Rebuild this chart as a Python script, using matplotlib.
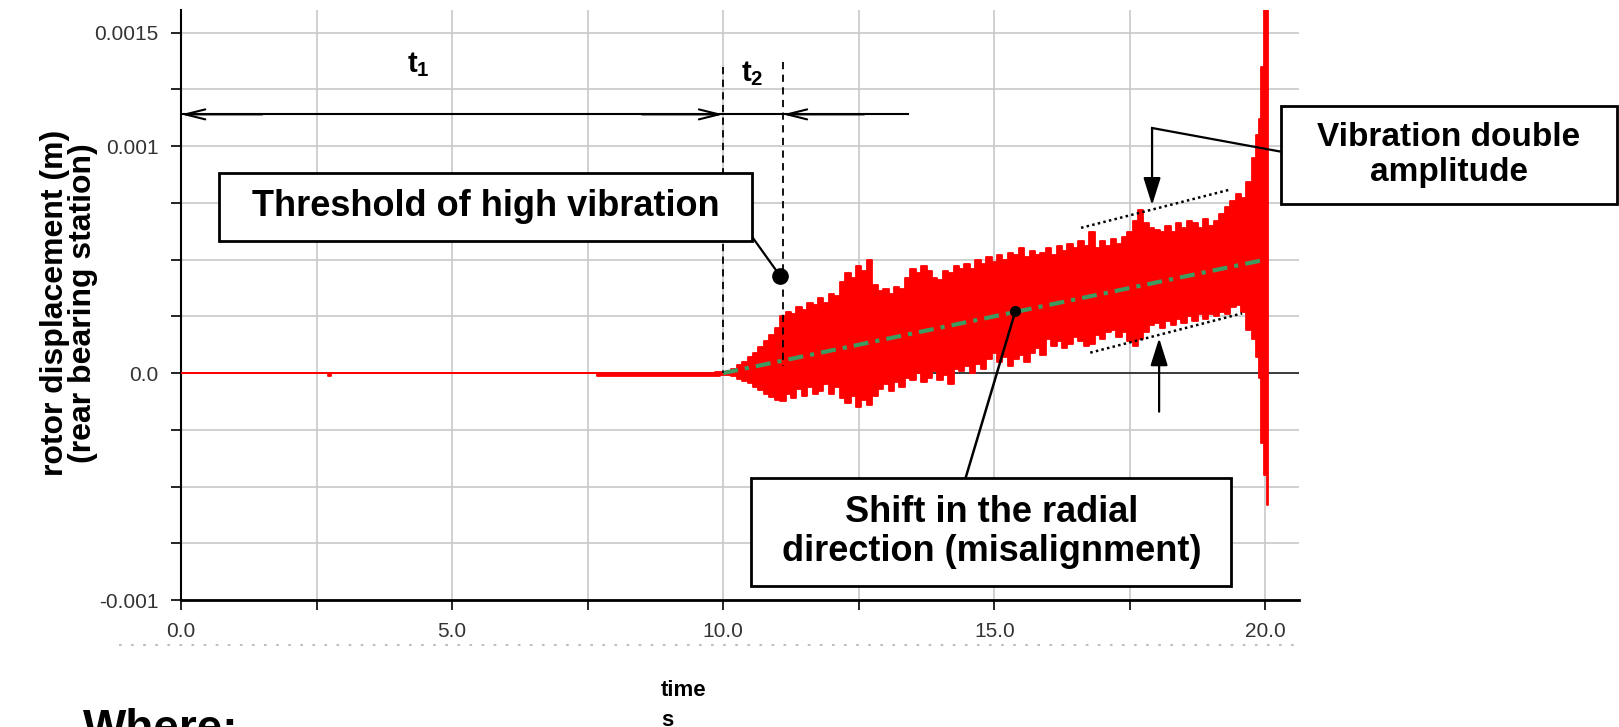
import matplotlib
matplotlib.use("Agg")
import matplotlib.pyplot as plt
from matplotlib.patches import Rectangle
from matplotlib.lines import Line2D

plt.rcParams['font.family'] = ['Liberation Sans', 'DejaVu Sans']
plt.rcParams['mathtext.fontset'] = 'custom'
plt.rcParams['mathtext.bf'] = 'Liberation Sans:bold'
plt.rcParams['mathtext.rm'] = 'Liberation Sans'
plt.rcParams['mathtext.it'] = 'Liberation Sans:italic'

# envelope of the rear bearing displacement (units of 1e-3 m)
env_t = [0.0, 2.70, 2.72, 2.76, 2.78, 7.65, 7.70, 9.80, 9.90,
         10.0, 10.1, 10.2, 10.3, 10.4, 10.5, 10.6, 10.7, 10.8, 10.9,
         11.0, 11.1, 11.2, 11.3, 11.4, 11.5, 11.6, 11.7, 11.8, 11.9,
         12.0, 12.1, 12.2, 12.3, 12.4, 12.5, 12.6, 12.7, 12.8, 12.9,
         13.0, 13.1, 13.2, 13.3, 13.4, 13.5, 13.6, 13.7, 13.8, 13.9,
         14.0, 14.1, 14.2, 14.3, 14.4, 14.5, 14.6, 14.7, 14.8, 14.9,
         15.0, 15.1, 15.2, 15.3, 15.4, 15.5, 15.6, 15.7, 15.8, 15.9,
         16.0, 16.1, 16.2, 16.3, 16.4, 16.5, 16.6, 16.7, 16.8, 16.9,
         17.0, 17.1, 17.2, 17.3, 17.4, 17.5, 17.6, 17.7, 17.8, 17.9,
         18.0, 18.1, 18.2, 18.3, 18.4, 18.5, 18.6, 18.7, 18.8, 18.9,
         19.0, 19.1, 19.2, 19.3, 19.4, 19.5, 19.6, 19.7, 19.8,
         19.85, 19.9, 19.95, 20.0, 20.05]
env_hi = [0.0, 0.0, 0.0, 0.0, 0.0, 0.0, 0.0, 0.0, 0.004,
          0.006, 0.010, 0.020, 0.035, 0.050, 0.070, 0.090, 0.115, 0.140, 0.170,
          0.200, 0.250, 0.270, 0.260, 0.290, 0.280, 0.310, 0.300, 0.330, 0.310,
          0.350, 0.340, 0.400, 0.440, 0.420, 0.470, 0.450, 0.500, 0.390, 0.360,
          0.370, 0.350, 0.380, 0.370, 0.420, 0.460, 0.440, 0.470, 0.450, 0.420,
          0.410, 0.450, 0.440, 0.470, 0.460, 0.480, 0.460, 0.500, 0.480, 0.510,
          0.490, 0.520, 0.500, 0.530, 0.520, 0.550, 0.510, 0.540, 0.520, 0.530,
          0.550, 0.520, 0.560, 0.540, 0.570, 0.550, 0.580, 0.560, 0.620, 0.550,
          0.580, 0.560, 0.590, 0.570, 0.600, 0.620, 0.670, 0.720, 0.660, 0.640,
          0.630, 0.620, 0.650, 0.620, 0.660, 0.640, 0.670, 0.660, 0.640, 0.680,
          0.650, 0.670, 0.700, 0.730, 0.760, 0.790, 0.770, 0.840, 0.950,
          1.050, 1.120, 1.350, 1.650, 1.650]
env_lo = [0.0, 0.0, -0.012, -0.012, 0.0, 0.0, -0.012, -0.012, -0.012,
          -0.008, -0.008, -0.015, -0.025, -0.035, -0.045, -0.060, -0.075, -0.090, -0.105,
          -0.120, -0.125, -0.090, -0.110, -0.070, -0.100, -0.060, -0.090, -0.080, -0.050,
          -0.090, -0.060, -0.110, -0.130, -0.100, -0.150, -0.120, -0.140, -0.100, -0.070,
          -0.050, -0.080, -0.040, -0.060, -0.020, -0.030, 0.000, -0.040, -0.020, 0.010,
          -0.030, -0.010, -0.050, 0.020, 0.010, 0.030, 0.000, 0.040, 0.020, 0.060,
          0.090, 0.050, 0.070, 0.030, 0.060, 0.080, 0.050, 0.090, 0.110, 0.080,
          0.150, 0.120, 0.140, 0.110, 0.130, 0.160, 0.140, 0.120, 0.130, 0.170,
          0.150, 0.180, 0.190, 0.160, 0.180, 0.140, 0.120, 0.150, 0.180, 0.210,
          0.220, 0.200, 0.230, 0.210, 0.240, 0.220, 0.250, 0.230, 0.260, 0.240,
          0.260, 0.250, 0.270, 0.260, 0.290, 0.300, 0.270, 0.190, 0.150,
          0.070, -0.020, -0.310, -0.450, -0.580]

# misalignment trend (dash-dot)
trend_t = [10.0, 20.0]
trend_y = [0.0, 0.0005]

# t1 / t2 markers
t_start = 10.0
t_threshold = 11.1
t2_arrow_end = 13.4
threshold_y = 0.000428

# double amplitude guides
upper_guide_t = [16.6, 19.37]
upper_guide_y = [0.00064, 0.00081]
lower_guide_t = [16.77, 19.57]
lower_guide_y = [0.00009, 0.000263]

x_ticks = [0.0, 2.5, 5.0, 7.5, 10.0, 12.5, 15.0, 17.5, 20.0]
x_tick_labels = ['0.0', '', '5.0', '', '10.0', '', '15.0', '', '20.0']
y_ticks = [-0.001, -0.00075, -0.0005, -0.00025, 0.0, 0.00025, 0.0005,
           0.00075, 0.001, 0.00125, 0.0015]
y_tick_labels = ['-0.001', '', '', '', '0.0', '', '', '', '0.001', '', '0.0015']

W, H = 1619, 727


def fx(px):
    return px / W


def fy(py):
    return 1 - py / H


fig = plt.figure(figsize=(W / 100, H / 100), dpi=100)
ax = fig.add_axes([fx(181), fy(600), (1299 - 181) / W, (600 - 10) / H])

ax.set_xlim(0, 20.62)
ax.set_ylim(-0.001, 0.0016)
ax.set_xticks(x_ticks)
ax.set_xticklabels(x_tick_labels)
ax.set_yticks(y_ticks)
ax.set_yticklabels(y_tick_labels)
ax.tick_params(axis='both', length=7, width=1.2, color='black',
               labelcolor='#333333', labelsize=15)
ax.tick_params(axis='y', pad=9)
ax.tick_params(axis='x', pad=9)
for s in ['top', 'right']:
    ax.spines[s].set_visible(False)
ax.spines['left'].set_linewidth(1.5)
ax.spines['bottom'].set_linewidth(2)
ax.set_axisbelow(True)
ax.grid(True, color='#c8c8c8', lw=1.2)
ax.axhline(0, color='#222222', lw=1.2, zorder=1.5)

# signal
hi = [v * 1e-3 for v in env_hi]
lo = [v * 1e-3 for v in env_lo]
ax.fill_between(env_t, lo, hi, step='mid', facecolor='red', edgecolor='red',
                lw=1.3, zorder=3)

ax.plot(trend_t, trend_y, color='#3d9b62', lw=3, dashes=(3.6, 1.7, 1.0, 1.7), zorder=4)

# t1 / t2 construction
ax.plot([t_start, t_start], [0.00135, 0.0], color='black', lw=1.3, dashes=(4, 3), zorder=5)
ax.plot([t_threshold, t_threshold], [0.00137, 0.00003], color='black', lw=1.3,
        dashes=(4, 3), zorder=5)
arr_y = 0.00114
ax.plot([0, t2_arrow_end], [arr_y, arr_y], color='black', lw=1.5, zorder=5)
head = dict(arrowstyle='->, head_length=0.6, head_width=0.15', lw=1.5,
            mutation_scale=24, shrinkA=0, shrinkB=0, color='black')
ax.annotate('', xy=(0, arr_y), xytext=(1.5, arr_y), arrowprops=head, zorder=6)
ax.annotate('', xy=(t_start, arr_y), xytext=(t_start - 1.5, arr_y), arrowprops=head, zorder=6)
ax.annotate('', xy=(t_threshold, arr_y), xytext=(t_threshold + 1.5, arr_y), arrowprops=head, zorder=6)
ax.text(4.38, 0.00136, r'$\mathbf{t}_{\mathbf{1}}$', fontsize=21, ha='center', va='center')
ax.text(10.54, 0.00132, r'$\mathbf{t}_{\mathbf{2}}$', fontsize=21, ha='center', va='center')

# guides for the double amplitude
ax.plot(upper_guide_t, upper_guide_y, color='black', lw=1.8, ls=(0, (1, 1.3)), zorder=5)
ax.plot(lower_guide_t, lower_guide_y, color='black', lw=1.8, ls=(0, (1, 1.3)), zorder=5)


def box(x0, y0, x1, y1, text, size):
    ax.add_patch(Rectangle((x0, y0), x1 - x0, y1 - y0, facecolor='white',
                           edgecolor='black', lw=2, clip_on=False, zorder=7))
    ax.text((x0 + x1) / 2, (y0 + y1) / 2, text, ha='center', va='center',
            fontsize=size, fontweight='bold', linespacing=1.15, zorder=8)


# threshold callout
box(0.70, 0.000583, 10.54, 0.000883, 'Threshold of high vibration', 26)
ax.plot([10.55, 11.05], [0.000595, threshold_y], color='black', lw=1.6, zorder=6)
ax.plot([11.05], [threshold_y], 'o', color='black', ms=11, zorder=6)

# shift callout
box(10.52, -0.00094, 19.37, -0.000463, 'Shift in the radial\ndirection (misalignment)', 26)
ax.plot([14.47, 15.39], [-0.000463, 0.000274], color='black', lw=1.8, zorder=6)
ax.plot([15.39], [0.000274], 'o', color='black', ms=7, zorder=6)

# vibration double amplitude callout
box(20.28, 0.000746, 26.48, 0.001178, 'Vibration double\namplitude', 24)
ax.plot([20.28, 17.91], [0.000976, 0.00108], color='black', lw=1.6, clip_on=False, zorder=6)
vhead = dict(arrowstyle='-|>, head_length=0.7, head_width=0.22', lw=1.6,
             mutation_scale=24, shrinkA=0, shrinkB=0, color='black')
ax.annotate('', xy=(17.91, 0.00074), xytext=(17.91, 0.00108), arrowprops=vhead, zorder=6)
ax.annotate('', xy=(18.04, 0.000154), xytext=(18.04, -0.00017), arrowprops=vhead, zorder=6)

# labels outside the axes
fig.text(fx(69), fy(303), 'rotor displacement (m)\n(rear bearing station)', rotation=90,
         ha='center', va='center', fontsize=23, fontweight='bold', linespacing=0.95)
fig.add_artist(Line2D([fx(119), fx(1299)], [fy(645), fy(645)], color='#c0c0c0',
                      lw=1.5, ls=(0, (1.3, 4.5))))
fig.text(fx(661), fy(690), 'time', ha='left', va='center', fontsize=16, fontweight='bold')
fig.text(fx(661), fy(720), 's', ha='left', va='center', fontsize=16, fontweight='bold')
fig.text(fx(83), fy(742), 'Where:', ha='left', va='baseline', fontsize=33, fontweight='bold')

fig.savefig('out.png', dpi=100)
